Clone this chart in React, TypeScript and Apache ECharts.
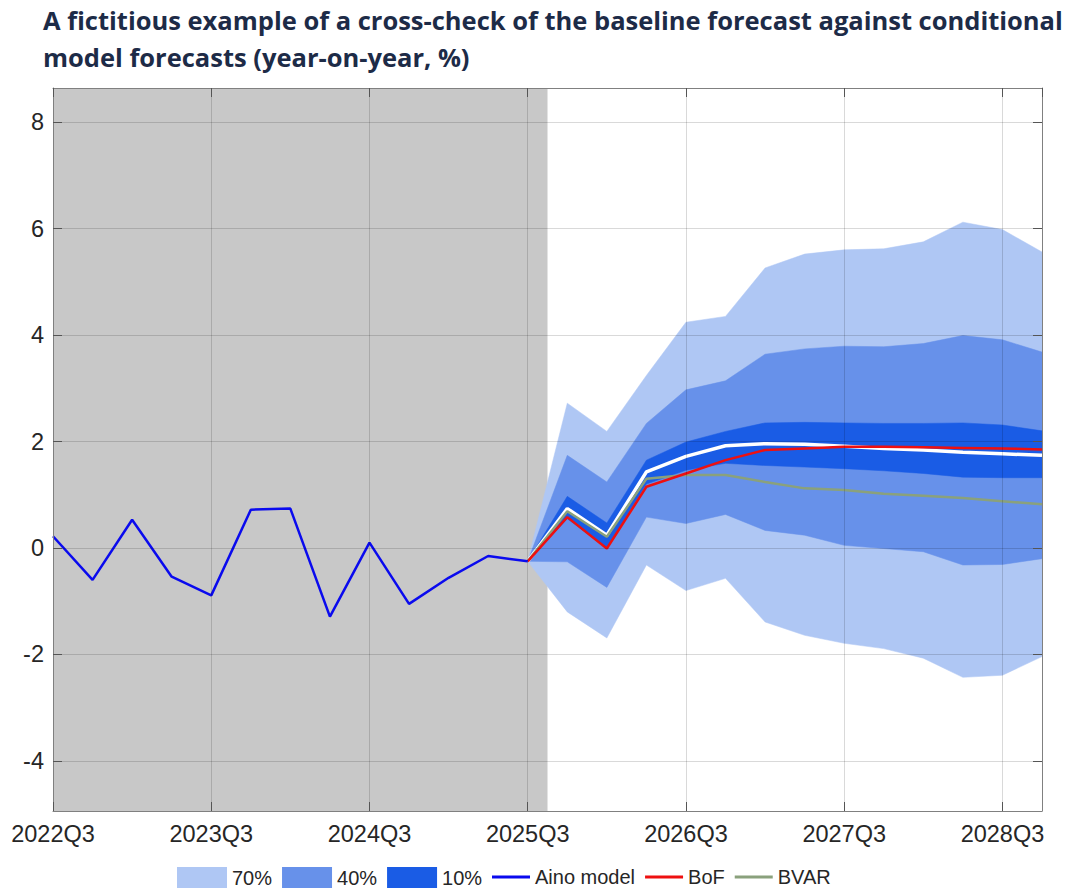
import React, { useEffect, useRef } from "react";
import * as echarts from "echarts";

// x = quarter index, 0 = 2022Q3 ... 25 = 2028Q4
const histX = [0, 1, 2, 3, 4, 5, 6, 7, 8, 9, 10, 11, 12];
const ainoHist = [0.22, -0.6, 0.53, -0.54, -0.89, 0.72, 0.74, -1.29, 0.1, -1.05, -0.56, -0.15, -0.25];

const fcX = [12, 13, 14, 15, 16, 17, 18, 19, 20, 21, 22, 23, 24, 25];
const ainoFc = [-0.25, 0.74, 0.24, 1.43, 1.72, 1.92, 1.96, 1.95, 1.91, 1.87, 1.84, 1.8, 1.77, 1.74];
const bof = [-0.25, 0.58, -0.01, 1.15, 1.4, 1.65, 1.84, 1.87, 1.9, 1.9, 1.89, 1.88, 1.87, 1.85];
const bvar = [-0.25, 0.69, 0.21, 1.3, 1.37, 1.37, 1.24, 1.12, 1.09, 1.02, 0.98, 0.94, 0.88, 0.82];

const upper70 = [-0.25, 2.72, 2.19, 3.24, 4.24, 4.35, 5.26, 5.52, 5.6, 5.62, 5.75, 6.12, 5.98, 5.56];
const upper40 = [-0.25, 1.74, 1.24, 2.34, 2.97, 3.14, 3.64, 3.74, 3.79, 3.78, 3.84, 3.99, 3.91, 3.68];
const upper10 = [-0.25, 0.97, 0.47, 1.65, 1.99, 2.19, 2.35, 2.36, 2.35, 2.34, 2.34, 2.35, 2.31, 2.2];
const lower10 = [-0.25, 0.55, 0.0, 1.2, 1.46, 1.59, 1.55, 1.52, 1.49, 1.45, 1.4, 1.33, 1.32, 1.32];
const lower40 = [-0.25, -0.26, -0.74, 0.58, 0.46, 0.63, 0.33, 0.24, 0.05, -0.01, -0.07, -0.32, -0.31, -0.2];
const lower70 = [-0.25, -1.2, -1.69, -0.32, -0.8, -0.57, -1.39, -1.64, -1.79, -1.89, -2.07, -2.43, -2.39, -2.04];

const yTicks = [-4, -2, 0, 2, 4, 6, 8];
const shadeEnd = 12.5;

const LIGHT = "#afc7f4";
const MEDIUM = "#6791ea";
const DARK = "#1a5ce5";
const BLUE = "#0a0aee";
const RED = "#ee1010";
const GREEN = "#8aa17c";

const quarterLabel = (v: number) => {
  const q = 2022 * 4 + 2 + Math.round(v);
  return `${Math.floor(q / 4)}Q${(q % 4) + 1}`;
};

const pairs = (xs: number[], ys: number[]) => xs.map((x, i) => [x, ys[i]]);

const bandSeries = (name: string, lower: number[], upper: number[], color: string, z: number) => ({
  name,
  type: "custom",
  z,
  silent: true,
  itemStyle: { color },
  encode: { x: 0, y: [1, 2] },
  data: fcX.map((x, i) => [x, lower[i], upper[i]]),
  renderItem: (params: any, api: any) => {
    if (params.dataIndexInside !== 0) return null;
    const n = params.dataInsideLength;
    const top: number[][] = [];
    const bottom: number[][] = [];
    for (let i = 0; i < n; i++) {
      const x = api.value(0, i);
      top.push(api.coord([x, api.value(2, i)]));
      bottom.push(api.coord([x, api.value(1, i)]));
    }
    return {
      type: "polygon",
      shape: { points: top.concat(bottom.reverse()) },
      style: { fill: color, stroke: color, lineWidth: 0.5 },
      silent: true,
    };
  },
});

export default function App() {
  const ref = useRef<HTMLDivElement>(null);
  useEffect(() => {
    document.body.style.margin = "0";
    if (!ref.current) return;
    const chart = echarts.init(ref.current, undefined, { renderer: "svg" });
    const gridCol = "rgba(0,0,0,0.15)";
    const frameCol = "#808080";
    const labelFont = "Liberation Sans";
    chart.setOption({
      animation: false,
      backgroundColor: "#ffffff",
      title: {
        text: "A fictitious example of a cross-check of the baseline forecast against conditional\nmodel forecasts (year-on-year, %)",
        left: 38,
        top: -4,
        textStyle: {
          fontFamily: "Open Sans",
          fontWeight: "bold",
          fontSize: 25.5,
          lineHeight: 37,
          color: "#1d2b47",
        },
      },
      legend: [
        {
          data: [
            { name: "70%", itemStyle: { color: LIGHT } },
            { name: "40%", itemStyle: { color: MEDIUM } },
            { name: "10%", itemStyle: { color: DARK } },
          ],
          left: 172,
          top: 862,
          icon: "rect",
          itemWidth: 50,
          itemHeight: 21,
          itemGap: 10,
          selectedMode: false,
          textStyle: { fontFamily: labelFont, fontSize: 20, color: "#262626" },
        },
        {
          data: [
            { name: "Aino model", itemStyle: { color: BLUE } },
            { name: "BoF", itemStyle: { color: RED } },
            { name: "BVAR", itemStyle: { color: GREEN } },
          ],
          left: 487,
          top: 862,
          icon: "rect",
          itemWidth: 38,
          itemHeight: 3,
          itemGap: 10,
          selectedMode: false,
          textStyle: { fontFamily: labelFont, fontSize: 20, color: "#262626" },
        },
      ],
      grid: { left: 53, top: 88, width: 989, height: 723, containLabel: false },
      xAxis: [
        {
          type: "value",
          min: 0,
          max: 25,
          interval: 4,
          z: 20,
          axisLine: { show: true, onZero: false, lineStyle: { color: frameCol, width: 1 } },
          axisTick: { show: true, inside: true, length: 9, lineStyle: { color: "#555" } },
          axisLabel: {
            formatter: quarterLabel,
            fontFamily: labelFont,
            fontSize: 23.5,
            color: "#262626",
            margin: 11,
            showMaxLabel: false,
          },
          splitLine: { show: true, lineStyle: { color: gridCol, width: 1 } },
        },
        {
          type: "value",
          position: "top",
          min: 0,
          max: 25,
          interval: 4,
          z: 20,
          axisLine: { show: true, onZero: false, lineStyle: { color: frameCol, width: 1 } },
          axisTick: { show: true, inside: true, length: 9, lineStyle: { color: "#555" } },
          axisLabel: { show: false },
          splitLine: { show: false },
        },
      ],
      yAxis: [
        {
          type: "value",
          min: -4.94,
          max: 8.64,
          z: 20,
          axisLine: { show: true, onZero: false, lineStyle: { color: frameCol, width: 1 } },
          axisTick: { show: true, inside: true, length: 9, customValues: yTicks, lineStyle: { color: "#555" } },
          axisLabel: {
            customValues: yTicks,
            fontFamily: labelFont,
            fontSize: 23.5,
            color: "#262626",
            margin: 9,
          },
          splitLine: { show: true, lineStyle: { color: gridCol, width: 1 } },
        },
        {
          type: "value",
          position: "right",
          min: -4.94,
          max: 8.64,
          z: 20,
          axisLine: { show: true, onZero: false, lineStyle: { color: frameCol, width: 1 } },
          axisTick: { show: true, inside: true, length: 9, customValues: yTicks, lineStyle: { color: "#555" } },
          axisLabel: { show: false },
          splitLine: { show: false },
        },
      ],
      series: [
        {
          name: "shade",
          type: "line",
          data: [],
          silent: true,
          markArea: {
            silent: true,
            itemStyle: { color: "#c8c8c8" },
            data: [[{ xAxis: 0 }, { xAxis: shadeEnd }]],
          },
        },
        bandSeries("70%", lower70, upper70, LIGHT, 2),
        bandSeries("40%", lower40, upper40, MEDIUM, 3),
        bandSeries("10%", lower10, upper10, DARK, 4),
        {
          name: "Aino forecast",
          type: "line",
          data: pairs(fcX, ainoFc),
          showSymbol: false,
          silent: true,
          z: 8,
          color: "#ffffff",
          lineStyle: { color: "#ffffff", width: 3.5 },
        },
        {
          name: "BVAR",
          type: "line",
          data: pairs(fcX, bvar),
          showSymbol: false,
          silent: true,
          z: 9,
          color: GREEN,
          lineStyle: { color: GREEN, width: 2.5 },
        },
        {
          name: "BoF",
          type: "line",
          data: pairs(fcX, bof),
          showSymbol: false,
          silent: true,
          z: 10,
          color: RED,
          lineStyle: { color: RED, width: 2.5 },
        },
        {
          name: "Aino model",
          type: "line",
          data: pairs(histX, ainoHist),
          showSymbol: false,
          silent: true,
          z: 10,
          color: BLUE,
          lineStyle: { color: BLUE, width: 2.5 },
        },
      ],
    });
    return () => chart.dispose();
  }, []);
  return <div ref={ref} style={{ width: 1067, height: 889 }} />;
}
